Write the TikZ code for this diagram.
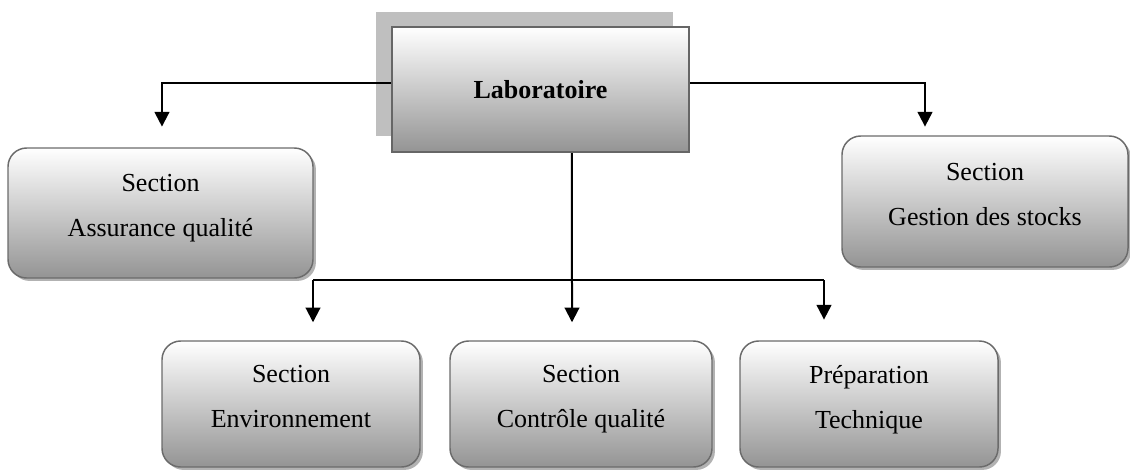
\documentclass[tikz,border=0pt]{standalone}
\usepackage{fontspec}
\setmainfont{Liberation Serif}
\usetikzlibrary{arrows.meta,calc,shadows}

\tikzset{
	secbox/.style={draw=black!58, line width=1.1pt, rounded corners=14pt,
		top color=white, bottom color=black!42, align=center, inner sep=0pt,
		font=\fontsize{19.5}{33.75}\selectfont,
		drop shadow={shadow xshift=2.2pt, shadow yshift=-2.2pt, fill=black!30, opacity=1}},
	labbox/.style={draw=black!60, line width=1.5pt, top color=white, bottom color=black!42,
		inner sep=0pt, font=\fontsize{19.5}{24}\selectfont\bfseries},
	link/.style={line width=1.5pt, -{Triangle[width=11pt,length=11pt]}}
}

\begin{document}
\begin{tikzpicture}[x=0.75pt, y=-0.75pt]
			%%%%% START %%%%%
			\useasboundingbox (0, 0) rectangle (1130, 469);
			
			\fill[black!25] (376, 12) rectangle (673, 136);
			\node[labbox, minimum width=222.75pt, minimum height=93.75pt] (lab) at (540.5, 89.5) {Laboratoire};
			
			\node[secbox, minimum width=228.75pt, minimum height=97.5pt] (aq) at (160.5, 213) {Section\\Assurance qualité\rule[-11pt]{0pt}{0pt}};
			\node[secbox, minimum width=214.5pt, minimum height=98.25pt] (gs) at (985, 201.5) {Section\\Gestion des stocks\rule[-11pt]{0pt}{0pt}};
			
			\node[secbox, minimum width=193.5pt, minimum height=94.5pt] (env) at (291, 404) {Section\\Environnement\rule[-11pt]{0pt}{0pt}};
			\node[secbox, minimum width=196.5pt, minimum height=94.5pt] (cq) at (581, 404) {Section\\Contrôle qualité\rule[-11pt]{0pt}{0pt}};
			\node[secbox, minimum width=193.5pt, minimum height=94.5pt] (pt) at (869, 404) {Préparation\\Technique\rule[-11pt]{0pt}{0pt}};
			
			% top branches
			\draw[link, shorten >=15.5pt] ([yshift=4.9pt]lab.west) -| ([xshift=1.1pt]aq.north);
			\draw[link, shorten >=6.5pt] ([yshift=4.9pt]lab.east) -| ([xshift=-45pt]gs.north);
			
			% lower branches
			\coordinate (fork) at (572, 280);
			\draw[link, shorten >=13.5pt] ([xshift=23.6pt]lab.south) -- ([xshift=-6.75pt]cq.north);
			\draw[line width=1.5pt] (fork) -- ([xshift=16.5pt]env.north |- fork);
			\draw[line width=1.5pt] (fork) -- ([xshift=-33.75pt]pt.north |- fork);
			\draw[link, shorten >=13.5pt] ([xshift=16.5pt]env.north |- fork) -- ([xshift=16.5pt]env.north);
			\draw[link, shorten >=15.5pt] ([xshift=-33.75pt]pt.north |- fork) -- ([xshift=-33.75pt]pt.north);
			
			%%%%% END %%%%%
\end{tikzpicture}
\end{document}
